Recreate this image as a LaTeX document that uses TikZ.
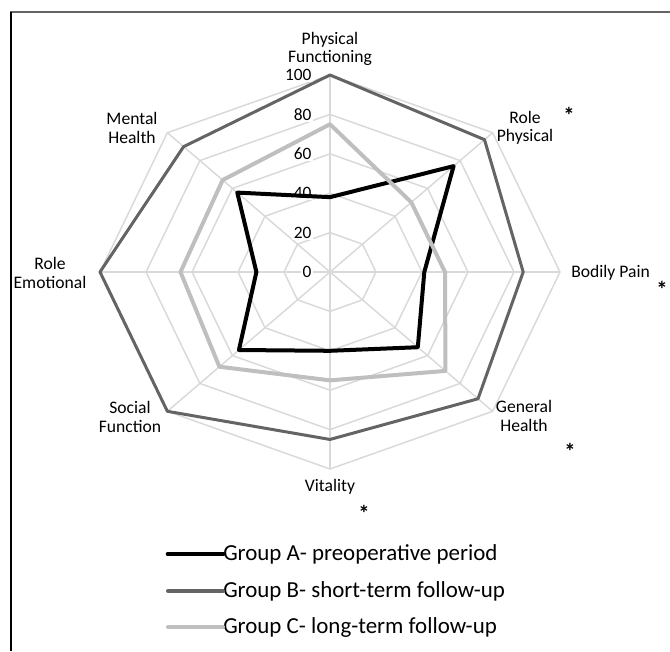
\documentclass[tikz,border=0pt]{standalone}
\usepackage{fontspec}
\setmainfont{Carlito}
\definecolor{webgray}{HTML}{D9D9D9}
\definecolor{groupBgray}{HTML}{646464}
\definecolor{groupCgray}{HTML}{BFBFBF}
\begin{document}
\begin{tikzpicture}[x=0.75pt, y=0.75pt,
    webline/.style={webgray, line width=1.1pt},
    groupA/.style={black, line width=3pt, line join=round},
    groupB/.style={groupBgray, line width=2.25pt, line join=round},
    groupC/.style={groupCgray, line width=3pt, line join=round},
    axislabel/.style={align=center, inner sep=0pt, font=\fontsize{13.2}{13.8}\selectfont},
    ticklabel/.style={anchor=east, fill=white, inner sep=1pt, font=\fontsize{13}{13}\selectfont},
    starmark/.style={inner sep=0pt, font=\fontsize{17}{17}\selectfont\bfseries},
    legendtext/.style={anchor=west, inner sep=0pt, font=\fontsize{17.2}{18}\selectfont}]
  \useasboundingbox (-330,-379) rectangle (340,272);

  % Frame
  \draw[groupBgray, line width=1.1pt] (-320,260) -- (340,260);
  \draw[black, line width=1.1pt] (-319,260.5) -- (-319,-379);

  \begin{scope}[x=1.725pt, y=1.4775pt]
    % Web rings
    \draw[webline] (90:20) -- (45:20) -- (0:20) -- (-45:20) -- (-90:20) -- (-135:20) -- (180:20) -- (135:20) -- cycle;
    \draw[webline] (90:40) -- (45:40) -- (0:40) -- (-45:40) -- (-90:40) -- (-135:40) -- (180:40) -- (135:40) -- cycle;
    \draw[webline] (90:60) -- (45:60) -- (0:60) -- (-45:60) -- (-90:60) -- (-135:60) -- (180:60) -- (135:60) -- cycle;
    \draw[webline] (90:80) -- (45:80) -- (0:80) -- (-45:80) -- (-90:80) -- (-135:80) -- (180:80) -- (135:80) -- cycle;
    \draw[webline] (90:100) -- (45:100) -- (0:100) -- (-45:100) -- (-90:100) -- (-135:100) -- (180:100) -- (135:100) -- cycle;

    % Spokes
    \draw[webline] (90:100) -- (-90:100);
    \draw[webline] (45:100) -- (-135:100);
    \draw[webline] (0:100) -- (180:100);
    \draw[webline] (-45:100) -- (135:100);
  \end{scope}

  % Tick labels
  \node[ticklabel] (t0) at (-17,0) {0};
  \node[ticklabel] (t20) at (-17,39.4) {20};
  \node[ticklabel] (t40) at (-17,78.8) {40};
  \node[ticklabel] (t60) at (-17,118.2) {60};
  \node[ticklabel] (t80) at (-17,157.6) {80};
  \node[ticklabel] (t100) at (-17,197) {100};

  \begin{scope}[x=1.725pt, y=1.4775pt]
    % Group scores
    \draw[groupA] (90:38) -- (45:76) -- (0:41) -- (-45:54) -- (-90:40) -- (-135:56) -- (180:32) -- (135:57) -- cycle;
    \draw[groupB] (90:100) -- (45:95) -- (0:84) -- (-45:91) -- (-90:85) -- (-135:100) -- (180:100) -- (135:90) -- cycle;
    \draw[groupC] (90:75) -- (45:50) -- (0:50) -- (-45:71) -- (-90:55) -- (-135:68) -- (180:65) -- (135:66) -- cycle;
  \end{scope}

  % Axis labels
  \node[axislabel] (pf) at (0,223) {Physical\\Functioning};
  \node[axislabel] (rp) at (195,144) {Role\\Physical};
  \node[axislabel, anchor=west] (bp) at (241,-1) {Bodily Pain};
  \node[axislabel] (gh) at (194,-144) {General\\Health};
  \node[axislabel] (vit) at (0,-215) {Vitality};
  \node[axislabel] (sf) at (-200,-145) {Social\\Function};
  \node[axislabel] (re) at (-280,-1) {Role\\Emotional};
  \node[axislabel] (mh) at (-198,144) {Mental\\Health};

  % Significance marks
  \node[starmark] (rpstar) at (239,157) {*};
  \node[starmark] (bpstar) at (332,-17) {*};
  \node[starmark] (ghstar) at (240,-179) {*};
  \node[starmark] (vitstar) at (34,-241) {*};

  % Legend
  \coordinate (legA) at (-162,-282);
  \coordinate (legB) at (-162,-319);
  \coordinate (legC) at (-162,-355);
  \node[legendtext] (txtA) at (-107,-282) {Group A- preoperative period};
  \node[legendtext] (txtB) at (-107,-319) {Group B- short-term follow-up};
  \node[legendtext] (txtC) at (-107,-355) {Group C- long-term follow-up};
  \draw[groupA, line width=3.5pt, line cap=round] (legA) -- (txtA.west);
  \draw[groupB, line width=3pt, line cap=round] (legB) -- (txtB.west);
  \draw[groupC, line width=3pt, line cap=round] (legC) -- (txtC.west);
\end{tikzpicture}
\end{document}
